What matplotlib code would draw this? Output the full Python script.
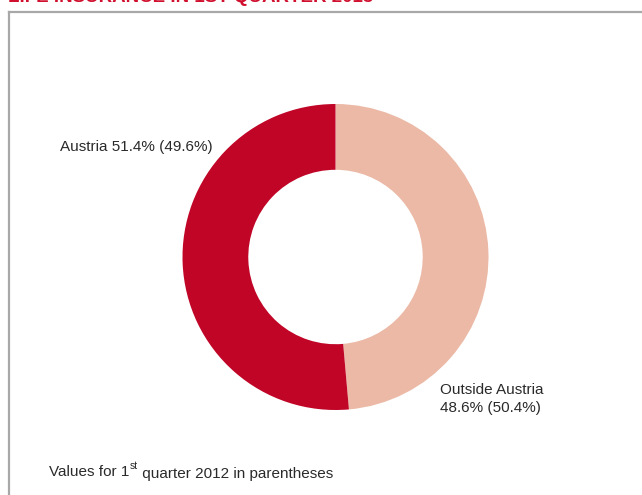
import matplotlib.pyplot as plt
from matplotlib.lines import Line2D

# share of premiums, 1st quarter 2013 (2012 in parentheses)
labels = ['Outside Austria', 'Austria']
shares = [48.6, 51.4]
shares_prev = [50.4, 49.6]
colors = ['#ebb9a6', '#c00527']

title = 'LIFE INSURANCE IN 1ST QUARTER 2013'
note_a = 'Values for 1'
note_sup = 'st'
note_b = ' quarter 2012 in parentheses'

plt.rcParams['font.family'] = ['Liberation Sans', 'DejaVu Sans']

W, H = 642, 495
fig = plt.figure(figsize=(W / 100, H / 100), dpi=100)

# title is cut off by the page edge, as in the source page
fig.text(8 / W, 1 - 6 / H, title, color='#d0102e', fontsize=13.5, fontweight='bold',
         ha='left', va='bottom')

# frame (top and left only)
fig.add_artist(Line2D([9 / W, 1], [1 - 12 / H, 1 - 12 / H], color='#a8a8a8', lw=1.6))
fig.add_artist(Line2D([9 / W, 9 / W], [1 - 12 / H, 0], color='#a8a8a8', lw=1.6))

cx, cy, r = 335.5, 257, 153
ax = fig.add_axes([(cx - r) / W, (H - cy - r) / H, 2 * r / W, 2 * r / H])
ax.pie(shares, colors=colors, startangle=90, counterclock=False, radius=1,
       wedgeprops=dict(width=0.43, linewidth=0))
ax.set_xlim(-1, 1)
ax.set_ylim(-1, 1)
ax.set_aspect('equal')
ax.axis('off')

fs = 11
tc = '#2a2a2a'
fig.text(60 / W, 1 - 147 / H, f'{labels[1]} {shares[1]:.1f}% ({shares_prev[1]:.1f}%)',
         fontsize=fs, color=tc, ha='left', va='center')
fig.text(440 / W, 1 - 399 / H, f'{labels[0]}\n{shares[0]:.1f}% ({shares_prev[0]:.1f}%)',
         fontsize=fs, color=tc, ha='left', va='center', linespacing=1.45)

t1 = fig.text(49 / W, 1 - 472 / H, note_a, fontsize=fs, color=tc, ha='left', va='center')
t2 = plt.annotate(note_sup, xy=(1, 0.55), xycoords=t1, fontsize=7.5, color=tc,
                  ha='left', va='bottom', annotation_clip=False)
plt.annotate(note_b, xy=(1, 0.45), xycoords=t2, fontsize=fs, color=tc,
             ha='left', va='top', annotation_clip=False)

fig.savefig('out.png', dpi=100)
